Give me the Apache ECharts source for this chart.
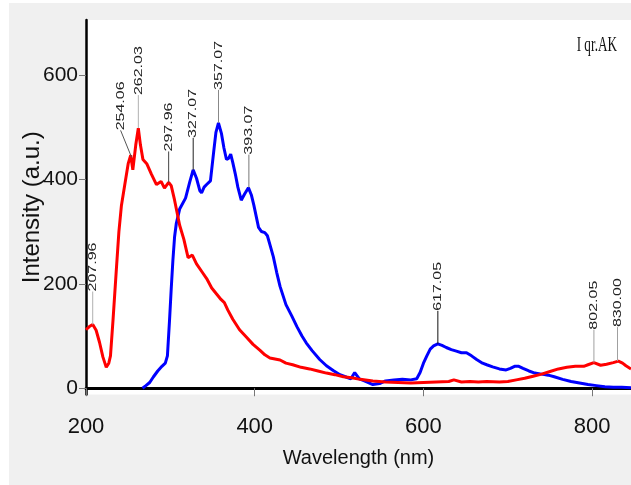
<!DOCTYPE html>
<html><head><meta charset="utf-8">
<script src="https://cdn.jsdelivr.net/npm/echarts@6/dist/echarts.min.js"></script>
<style>
html,body{margin:0;padding:0;background:#ffffff;}
#chart{position:absolute;left:9px;top:3px;width:622px;height:482px;}
</style></head><body><div id="chart"></div>
<script>
const xTicks = [200, 400, 600, 800];
const yTicks = [0, 200, 400, 600];

const redWavelength = [200,204,208,212,216,220,224,227,229,232,236,239,242,246,250,253,255.5,259,262,264.5,267.5,272,277.5,283.5,289,293,298,301,305,311,316,321,326,331,337,343,349,355,360,364,368,374,382,390,398,406,412,418,424,430,437,445,455,465,475,485,495,505,515,525,540,555,570,585,600,615,630,636,645,655,665,675,690,700,710,720,730,740,750,760,770,780,790,795,802,810,817,825,831,836,840,846];
const redIntensity  = [112,118,122,111,88,60,40,48,62,130,228,300,350,390,430,446,418,466,498,466,438,430,410,390,396,383,394,388,360,312,285,250,255,238,224,210,192,180,170,164,150,132,112,98,84,73,64,58,56,54,48,45,40,37,33,29,26,22,20,17,14,12,11,10,11,12,13,16,12,13,12,13,12,13,16,19,23,27,32,37,40,42,42,45,49,44,46,49,52,48,43,37];

const blueWavelength = [267,271,275.5,280,285,290,294,296.5,299,301,303,305,307,311,318,323,327,331,335,337,340,343,347.5,351.5,354,357,360.5,363.5,366.5,369,371.5,374,377,380,384,388,392.5,396,399,404.5,408,412,415,418,422,426,430,437,444,450,456,461,468,477,485,493,501,509,514,518.5,524,530,540,548,555,565,575,585,592,596,600,604,608,612,617,622,627,633,639,645,651,657,663,670,675,682,690,698,703,708,713,718,725,732,740,748,755,765,775,785,795,805,815,825,835,846];
const blueIntensity  = [0,5,11,22,33,42,48,62,130,190,245,290,315,343,364,395,418,402,378,374,385,390,397,455,490,508,488,460,438,440,448,432,410,385,360,372,384,370,350,308,300,298,292,275,252,222,195,160,138,118,100,87,72,55,43,34,26,21,18,30,18,14,7,9,14,16,17,16,18,30,48,62,75,81,85,82,78,74,71,68,68,62,55,48,45,41,37,35,38,42,42,38,33,29,27,25,22,17,13,10,7,5,3,2,2,1];

const peakWavelength = [207.96, 254.06, 262.03, 297.96, 327.07, 357.07, 393.07, 617.05, 802.05, 830.00];
const peakIntensity  = [122, 442, 498, 394, 418, 508, 384, 85, 49, 52];
const peakLabels = ['207.96', '254.06', '262.03', '297.96', '327.07', '357.07', '393.07', '617.05', '802.05', '830.00'];

// layout / style for the peak annotations (pixel offsets of leader end, leader colours)
const peakOffsets = [[0,-33],[-11,-27],[0,-33],[0,-31],[0,-32],[0,-33],[0,-33],[0,-33],[0,-33],[0,-34]];
const peakLineColors = ['#b0b0b0','#555555','#b0b0b0','#444444','#222222','#888888','#777777','#111111','#a0a0a0','#a0a0a0'];

const sans = "'Liberation Sans',Arial,sans-serif";

const chart = echarts.init(document.getElementById('chart'), null, {renderer: 'canvas'});
chart.setOption({
  animation: false,
  backgroundColor: '#f0f0f0',
  graphic: [{
    type: 'text', x: 608, y: 42.5, scaleX: 0.6, z: 10,
    style: {text: 'I qr.AK', align: 'right', verticalAlign: 'middle', fill: '#111',
            font: "22px 'Liberation Serif', serif"}
  }],
  grid: {left: 77, top: 17, right: 0, bottom: 90.5, show: true, backgroundColor: '#ffffff', borderWidth: 0,
         outerBoundsMode: 'none', containLabel: false},
  xAxis: {
    type: 'value', min: 200, max: 846,
    name: 'Wavelength (nm)', nameLocation: 'middle', nameGap: 54, nameMoveOverlap: false,
    nameTextStyle: {fontFamily: sans, fontSize: 20, color: '#111'},
    axisLine: {lineStyle: {color: '#000', width: 3}},
    axisTick: {length: 8, lineStyle: {color: '#777', width: 1}, customValues: xTicks},
    axisLabel: {customValues: xTicks, fontFamily: sans, fontSize: 22, color: '#111', margin: 21},
    splitLine: {show: false}
  },
  yAxis: {
    type: 'value', min: -12, max: 705,
    name: 'Intensity (a.u.)', nameLocation: 'middle', nameGap: 42, nameRotate: 90, nameMoveOverlap: false,
    nameTextStyle: {fontFamily: sans, fontSize: 24, color: '#111'},
    axisLine: {lineStyle: {color: '#000', width: 2.5}},
    axisTick: {length: 7, lineStyle: {color: '#777', width: 1}, customValues: yTicks},
    axisLabel: {customValues: yTicks, fontFamily: sans, fontSize: 21, color: '#111', margin: 8},
    splitLine: {show: false}
  },
  series: [
    {
      name: 'blue', type: 'line', showSymbol: false, symbol: 'none',
      data: blueWavelength.map((w, i) => [w, blueIntensity[i]]),
      lineStyle: {color: '#0000ff', width: 3}, itemStyle: {color: '#0000ff'}, z: 2
    },
    {
      name: 'red', type: 'line', showSymbol: false, symbol: 'none',
      data: redWavelength.map((w, i) => [w, redIntensity[i]]),
      lineStyle: {color: '#ff0000', width: 3}, itemStyle: {color: '#ff0000'}, z: 3
    },
    {
      name: 'peaks', type: 'custom', coordinateSystem: 'cartesian2d', clip: false, silent: true, z: 5,
      data: peakWavelength.map((w, i) => [w, peakIntensity[i]]),
      encode: {x: 0, y: 1},
      renderItem: function (params, api) {
        const i = params.dataIndex;
        const p = api.coord([api.value(0), api.value(1)]);
        const off = peakOffsets[i];
        const ex = p[0] + off[0], ey = p[1] + off[1];
        return {
          type: 'group',
          children: [
            {type: 'line', shape: {x1: p[0], y1: p[1], x2: ex, y2: ey}, style: {stroke: peakLineColors[i], lineWidth: 1}},
            {type: 'text', x: ex, y: ey, rotation: Math.PI / 2, scaleY: 0.72,
             style: {text: peakLabels[i], fill: '#222', fontSize: 16, fontFamily: sans, align: 'left', verticalAlign: 'middle'}}
          ]
        };
      }
    }
  ]
});
</script></body></html>
